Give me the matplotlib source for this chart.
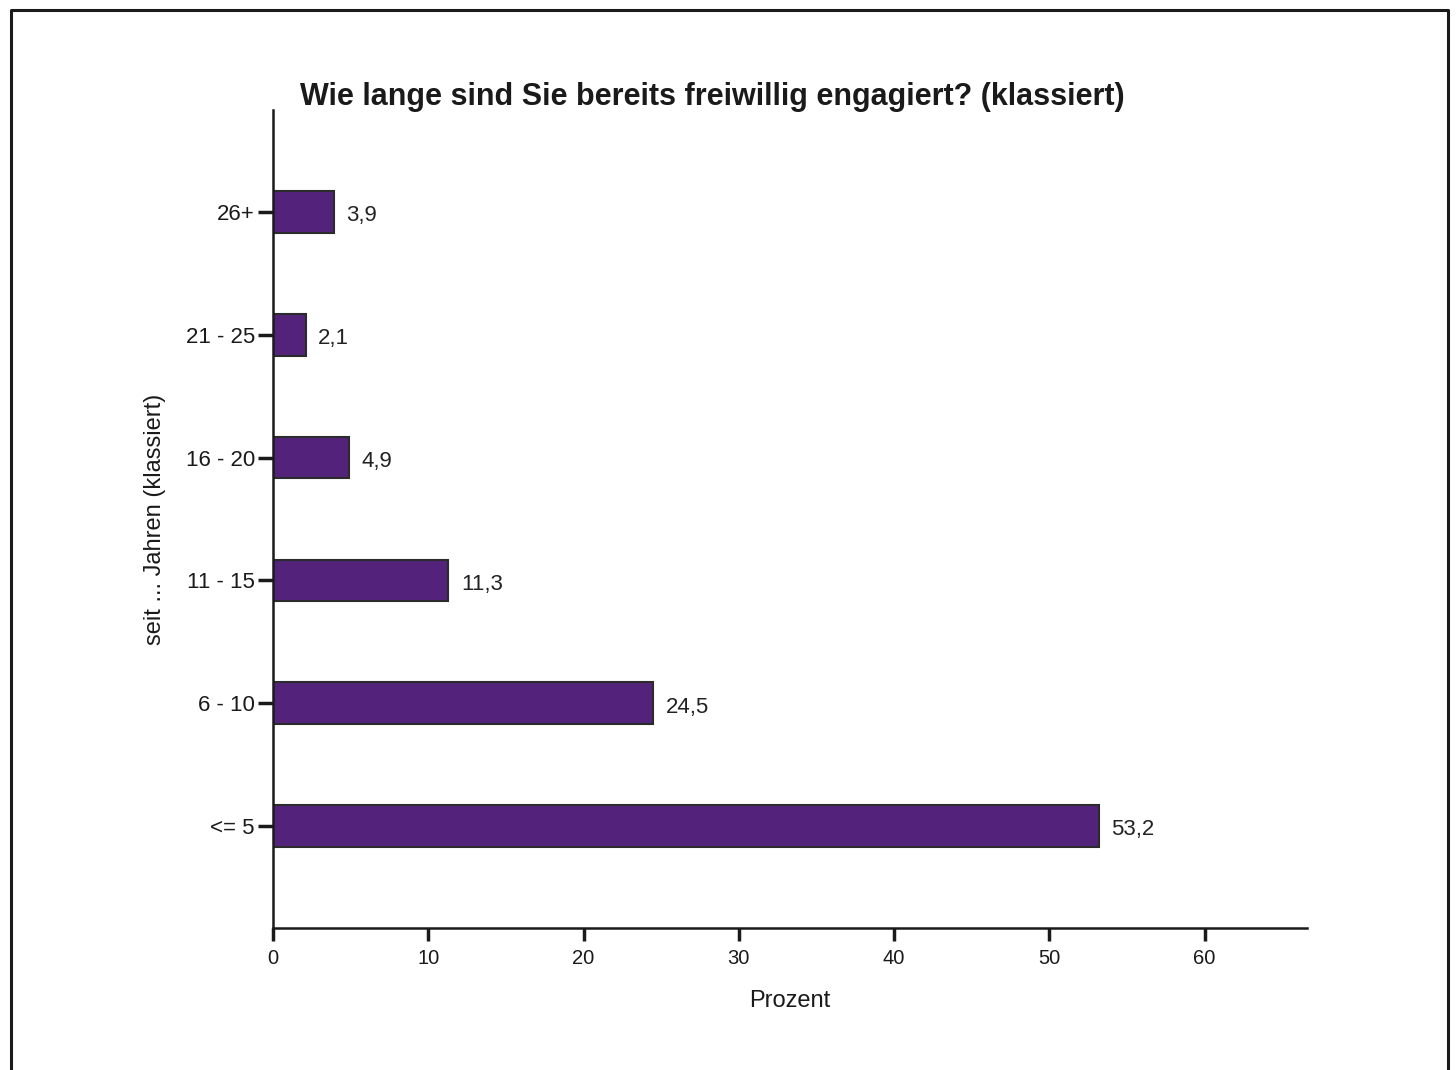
import matplotlib.pyplot as plt
from matplotlib.lines import Line2D

plt.rcParams['font.family'] = ['Liberation Sans', 'DejaVu Sans']

categories = ["<= 5", "6 - 10", "11 - 15", "16 - 20", "21 - 25", "26+"]
values = [53.2, 24.5, 11.3, 4.9, 2.1, 3.9]
xticks = [0, 10, 20, 30, 40, 50, 60]

fig = plt.figure(figsize=(14.56, 10.70), dpi=100)
ax = fig.add_axes([273/1456, 1 - 928/1070, (1307-273)/1456, (928-110)/1070])

y = range(len(categories))
bars = ax.barh(y, values, height=0.34, color="#53237B", edgecolor="#2b2b2b", linewidth=1.5)

for yi, v in zip(y, values):
    ax.annotate(f"{v:.1f}".replace(".", ","), (v, yi), xytext=(9, -1), textcoords="offset points",
                va="center_baseline", ha="left", fontsize=16, color="#222222")

ax.set_xlim(0, 66.6)
ax.set_ylim(-0.83, 5.83)
ax.set_xticks(xticks)
ax.set_yticks(list(y))
ax.set_yticklabels(categories)
ax.tick_params(axis="y", length=11, width=2.5, labelsize=16, pad=2, colors="#1a1a1a")
ax.tick_params(axis="x", length=9, width=2.5, labelsize=14.5, pad=6, colors="#1a1a1a")

for s in ["top", "right"]:
    ax.spines[s].set_visible(False)
for s in ["left", "bottom"]:
    ax.spines[s].set_linewidth(1.8)
    ax.spines[s].set_color("#1a1a1a")

ax.set_xlabel("Prozent", fontsize=17, labelpad=16, color="#1a1a1a")
ax.set_ylabel("seit ... Jahren (klassiert)", fontsize=17, labelpad=14, color="#1a1a1a")

fig.text(712/1456, 1 - 97/1070, "Wie lange sind Sie bereits freiwillig engagiert? (klassiert)",
         ha="center", va="center", fontsize=22, fontweight="bold", color="#1a1a1a")

# frame on left, top and right only
bx = [11/1456, 11/1456, 1448/1456, 1448/1456]
by = [0, 1 - 10/1070, 1 - 10/1070, 0]
fig.add_artist(Line2D(bx, by, transform=fig.transFigure, color="#1a1a1a", linewidth=2.2))

fig.savefig("out.png", dpi=100)
